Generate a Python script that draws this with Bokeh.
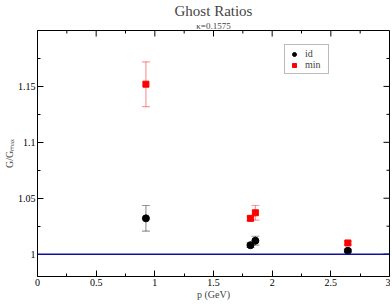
import math
from bokeh.plotting import figure
from bokeh.models import (ColumnDataSource, Whisker, TeeHead, Span, Legend, LegendItem,
                          FixedTicker, Range1d, Title)
from bokeh.embed import file_html
from bokeh.resources import INLINE

# data
p_id = [0.924, 1.815, 1.857, 2.645]
r_id = [1.032, 1.008, 1.012, 1.003]
e_id = [0.0115, 0.002, 0.004, 0.0015]
p_min = [0.924, 1.815, 1.857, 2.645]
r_min = [1.152, 1.032, 1.037, 1.010]
e_min = [0.02, 0.002, 0.0065, 0.0015]
x_ticks = [0, 0.5, 1, 1.5, 2, 2.5, 3]
x_minor = [0.25, 0.75, 1.25, 1.75, 2.25, 2.75]
y_ticks = [1, 1.05, 1.1, 1.15]
y_minor = [0.975, 1.025, 1.075, 1.125, 1.175]
X0, X1 = 0, 3
Y0, Y1 = 0.98, 1.2

FONT = "Liberation Serif"

W, H = 390, 302
BL, BR, BT, BB = 28, 1, 24, 26

p = figure(width=W, height=H, output_backend="svg", toolbar_location=None,
           x_range=Range1d(X0, X1), y_range=Range1d(Y0, Y1),
           min_border_left=BL, min_border_right=BR, min_border_bottom=BB, min_border_top=BT)
p.grid.visible = False
p.outline_line_color = "black"
p.outline_line_alpha = 1

p.title.text = "Ghost Ratios"
p.title.text_font = FONT
p.title.text_font_size = "15px"
p.title.text_font_style = "normal"
p.title.align = "center"
p.title.standoff = 0
p.title.offset = 0
p.title.text_line_height = 1.0
p.add_layout(Title(text="κ=0.1575", text_font=FONT, text_font_size="9px",
                   text_font_style="normal", align="center", standoff=0,
                   text_line_height=1.0), "above")

src_id = ColumnDataSource(dict(x=p_id, y=r_id, lo=[a - b for a, b in zip(r_id, e_id)],
                               hi=[a + b for a, b in zip(r_id, e_id)]))
src_min = ColumnDataSource(dict(x=p_min, y=r_min, lo=[a - b for a, b in zip(r_min, e_min)],
                                hi=[a + b for a, b in zip(r_min, e_min)]))

for src, col in ((src_id, "black"), (src_min, "red")):
    w = Whisker(source=src, base="x", lower="lo", upper="hi", dimension="height",
                line_color=col, line_alpha=0.4, line_width=1.2,
                upper_head=TeeHead(size=8, line_color=col, line_alpha=0.4, line_width=1.2),
                lower_head=TeeHead(size=8, line_color=col, line_alpha=0.4, line_width=1.2))
    p.add_layout(w)

p.add_layout(Span(location=1, dimension="width", line_color="#1010a0", line_width=1.5))

r1 = p.scatter("x", "y", source=src_id, marker="circle", size=7, color="black")
r2 = p.scatter("x", "y", source=src_min, marker="square", size=6, color="red")

# mirrored ticks on top and right edges
p.ray(x=x_ticks, y=[Y1] * len(x_ticks), length=6, length_units="screen",
      angle=-math.pi / 2, line_color="black", line_width=1)
p.ray(x=x_minor, y=[Y1] * len(x_minor), length=3, length_units="screen",
      angle=-math.pi / 2, line_color="black", line_width=1)
p.ray(x=[X1] * len(y_ticks), y=y_ticks, length=6, length_units="screen",
      angle=math.pi, line_color="black", line_width=1)
p.ray(x=[X1] * len(y_minor), y=y_minor, length=3, length_units="screen",
      angle=math.pi, line_color="black", line_width=1)

legend = Legend(items=[LegendItem(label="id", renderers=[r1]),
                       LegendItem(label="min", renderers=[r2])],
                location=(247, 202), padding=3, spacing=0, margin=0,
                label_height=10, glyph_height=10, glyph_width=12, label_standoff=5,
                label_text_font=FONT, label_text_font_size="10px",
                border_line_color="#777777", border_line_width=1.5,
                background_fill_alpha=1)
p.add_layout(legend)

for ax in (p.xaxis[0], p.yaxis[0]):
    ax.major_tick_in = 6
    ax.major_tick_out = 0
    ax.minor_tick_in = 3
    ax.minor_tick_out = 0
    ax.axis_line_color = "black"
    ax.major_tick_line_color = "black"
    ax.minor_tick_line_color = "black"
    ax.major_label_text_font = FONT
    ax.major_label_text_font_size = "10px"
    ax.major_label_text_color = "black"
    ax.axis_label_text_font = FONT
    ax.axis_label_text_font_size = "10px"
    ax.axis_label_text_font_style = "normal"

p.xaxis.ticker = FixedTicker(ticks=x_ticks, minor_ticks=x_minor)
p.yaxis.ticker = FixedTicker(ticks=y_ticks, minor_ticks=y_minor)
p.xaxis.axis_label = "p (GeV)"
p.yaxis.axis_label = "G/Gₘₐₓ"
p.xaxis.major_label_standoff = 2
p.xaxis.axis_label_standoff = 0
p.yaxis.major_label_standoff = 2
p.yaxis.axis_label_standoff = 0

open("out.html", "w").write(file_html(p, INLINE))
